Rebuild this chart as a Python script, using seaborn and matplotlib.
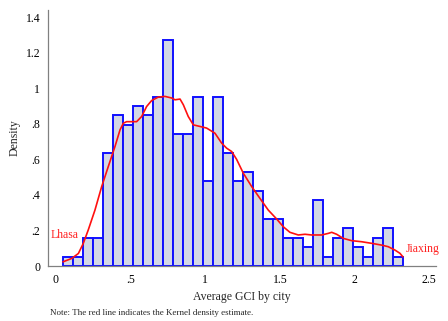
import numpy as np
import pandas as pd
import matplotlib
matplotlib.use("Agg")
import matplotlib.pyplot as plt
import seaborn as sns

# Histogram: number of cities in each bin of average GCI
bin_start = 0.045
bin_width = 0.067
city_counts = [1, 1, 3, 3, 12, 16, 15, 17, 16, 18, 24, 14, 14, 18, 9, 18, 12,
               9, 10, 8, 5, 5, 3, 3, 2, 7, 1, 3, 4, 2, 1, 3, 4, 1]

# Kernel density estimate of the same variable
kde_x = [0.047, 0.105, 0.150, 0.183, 0.216, 0.261, 0.306, 0.350, 0.395, 0.429,
         0.451, 0.473, 0.496, 0.540, 0.574, 0.607, 0.641, 0.685, 0.730, 0.775,
         0.797, 0.831, 0.853, 0.886, 0.920, 0.965, 1.009, 1.065, 1.110, 1.143,
         1.177, 1.210, 1.255, 1.311, 1.366, 1.422, 1.478, 1.523, 1.567, 1.623,
         1.668, 1.713, 1.780, 1.824, 1.847, 1.880, 1.924, 1.981, 2.048, 2.115,
         2.182, 2.226, 2.271, 2.304, 2.324]
kde_y = [0.024, 0.043, 0.071, 0.128, 0.203, 0.315, 0.447, 0.559, 0.672, 0.766,
         0.803, 0.812, 0.812, 0.812, 0.841, 0.897, 0.931, 0.950, 0.954, 0.945,
         0.935, 0.939, 0.907, 0.841, 0.794, 0.785, 0.776, 0.747, 0.691, 0.663,
         0.644, 0.600, 0.522, 0.447, 0.381, 0.315, 0.265, 0.221, 0.190, 0.175,
         0.179, 0.175, 0.175, 0.184, 0.190, 0.179, 0.156, 0.143, 0.137, 0.128,
         0.118, 0.109, 0.090, 0.072, 0.052]

x_ticks = [0, 0.5, 1, 1.5, 2, 2.5]
x_tick_labels = ["0", ".5", "1", "1.5", "2", "2.5"]
y_ticks = [0, 0.2, 0.4, 0.6, 0.8, 1.0, 1.2, 1.4]
y_tick_labels = ["0", ".2", ".4", ".6", ".8", "1", "1.2", "1.4"]

sns.set_theme(style="white")
plt.rcParams["font.family"] = ["Liberation Serif", "DejaVu Serif"]

n_bins = len(city_counts)
edges = [bin_start + bin_width * i for i in range(n_bins + 1)]
centers = [(edges[i] + edges[i + 1]) / 2 for i in range(n_bins)]
hist_df = pd.DataFrame({"gci": centers, "cities": city_counts})
kde_df = pd.DataFrame({"gci": kde_x, "density": kde_y})

fig = plt.figure(figsize=(4.48, 3.21), dpi=100)
ax = fig.add_axes([0.107, 0.171, 0.866, 0.798])

sns.histplot(data=hist_df, x="gci", weights="cities", bins=edges,
             stat="density", color="#d3d8e4", edgecolor="#1010ff",
             linewidth=1.4, alpha=1.0, ax=ax)
sns.lineplot(data=kde_df, x="gci", y="density", color="#ff1010",
             linewidth=1.2, estimator=None, ax=ax)

ax.text(-0.034, 0.174, "Lhasa", color="#ff2020", fontsize=8.5,
        ha="left", va="center")
ax.text(2.344, 0.096, "Jiaxing", color="#ff2020", fontsize=8.5,
        ha="left", va="center")

ax.set_xlim(-0.054, 2.545)
ax.set_ylim(0, 1.44)
ax.set_xticks(x_ticks)
ax.set_xticklabels(x_tick_labels)
ax.set_yticks(y_ticks)
ax.set_yticklabels(y_tick_labels)
ax.tick_params(axis="both", direction="out", length=3.5, width=0.8,
               color="#808080", labelsize=8.5, labelcolor="black", pad=2)
ax.set_xlabel("Average GCI by city", fontsize=8.5, labelpad=4)
ax.set_ylabel("Density", fontsize=8.5, labelpad=4)

for side in ["top", "right"]:
    ax.spines[side].set_visible(False)
for side in ["left", "bottom"]:
    ax.spines[side].set_color("#808080")
    ax.spines[side].set_linewidth(0.9)

fig.text(0.112, 0.025, "Note: The red line indicates the Kernel density estimate.",
         fontsize=6.5, ha="left", va="center")

fig.savefig("out.png", dpi=100, facecolor="white")
